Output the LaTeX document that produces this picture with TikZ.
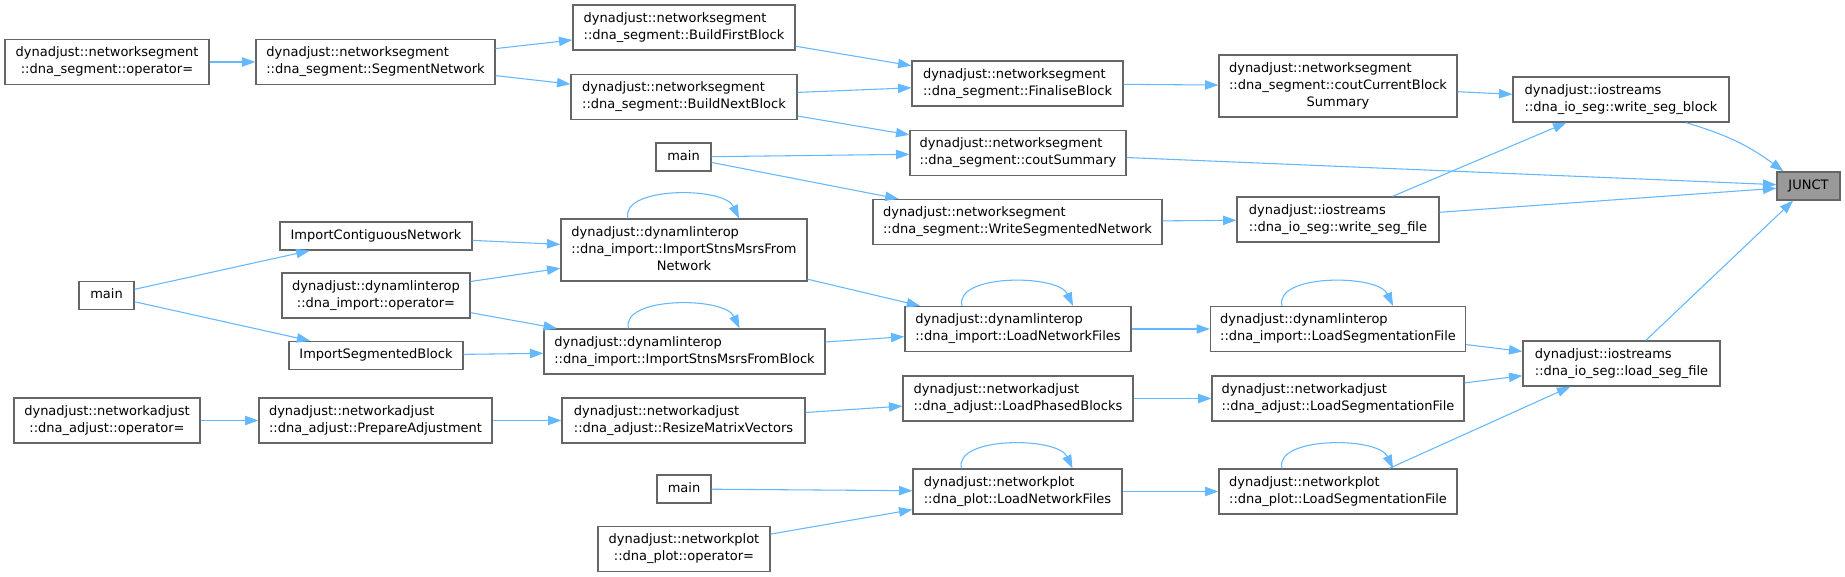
\documentclass[tikz,border=0pt]{standalone}
\usepackage{fontspec}
\setmainfont{DejaVu Sans}
\usetikzlibrary{arrows.meta}
\newdimen\pxu \pxu=0.75pt
\definecolor{callblue}{HTML}{63B8FF}
\definecolor{boxgray}{HTML}{666666}
\newcommand\fnA[2]{\begin{tabular}{@{}l@{}}#1\\\multicolumn{1}{@{}c@{}}{#2}\end{tabular}}
\newcommand\fnB[3]{\begin{tabular}{@{}l@{}}#1\\#2\\\multicolumn{1}{@{}c@{}}{#3}\end{tabular}}
\tikzset{
  fn/.style={rectangle, draw=boxgray, line width=1pt, fill=white, inner sep=0pt,
    minimum width=#1\pxu, minimum height=45\pxu, font=\fontsize{9.75}{12.75}\selectfont},
  fnone/.style={fn=#1, minimum height=28\pxu},
  fnthree/.style={fn=#1, minimum height=62\pxu},
  target/.style={fnone=#1, fill=black!40},
  call/.style={-{Triangle[length=10pt, width=7pt]}, line width=0.8pt, draw=callblue},
}

\begin{document}
\begin{tikzpicture}[x=0.75pt, y=-0.75pt]
  \path[fill=white, use as bounding box] (0,0) rectangle (1845,577);
  % networksegment
  \node[fn=204] (segOp) at (107,62) {\fnA{dynadjust::networksegment}{::dna\_segment::operator=}};
  \node[fn=239] (segNet) at (375.5,62) {\fnA{dynadjust::networksegment}{::dna\_segment::SegmentNetwork}};
  \node[fn=222] (buildFirst) at (684,27.5) {\fnA{dynadjust::networksegment}{::dna\_segment::BuildFirstBlock}};
  \node[fn=226] (buildNext) at (684,97) {\fnA{dynadjust::networksegment}{::dna\_segment::BuildNextBlock}};
  \node[fnone=55] (mainA) at (683.5,157) {\strut main};
  \node[fn=211] (finalise) at (1017.5,83.5) {\fnA{dynadjust::networksegment}{::dna\_segment::FinaliseBlock}};
  \node[fn=216] (coutSum) at (1018,153) {\fnA{dynadjust::networksegment}{::dna\_segment::coutSummary}};
  \node[fn=289] (writeSegNet) at (1017.5,222) {\fnA{dynadjust::networksegment}{::dna\_segment::WriteSegmentedNetwork}};
  \node[fnthree=238] (coutCur) at (1338,86) {\fnB{dynadjust::networksegment}{::dna\_segment::coutCurrentBlock}{Summary}};
  % iostreams
  \node[fn=216] (writeBlock) at (1621,99.5) {\fnA{dynadjust::iostreams}{::dna\_io\_seg::write\_seg\_block}};
  \node[fn=202] (writeFile) at (1338,219.5) {\fnA{dynadjust::iostreams}{::dna\_io\_seg::write\_seg\_file}};
  \node[fn=197] (loadSeg) at (1621.5,363.5) {\fnA{dynadjust::iostreams}{::dna\_io\_seg::load\_seg\_file}};
  \node[target=63] (junct) at (1808.5,186) {\strut JUNCT};
  % dynamlinterop
  \node[fnone=55] (mainB) at (106.5,295.5) {\strut main};
  \node[fnone=192] (importCont) at (376,236) {\strut ImportContiguousNetwork};
  \node[fn=188] (importOp) at (376,295.5) {\fnA{dynadjust::dynamlinterop}{::dna\_import::operator=}};
  \node[fnone=174] (importSeg) at (376,355.5) {\strut ImportSegmentedBlock};
  \node[fnthree=246] (stnsNet) at (684,250) {\fnB{dynadjust::dynamlinterop}{::dna\_import::ImportStnsMsrsFrom}{Network}};
  \node[fn=281] (stnsBlock) at (684.5,351.5) {\fnA{dynadjust::dynamlinterop}{::dna\_import::ImportStnsMsrsFromBlock}};
  \node[fn=226] (importLoad) at (1018,329) {\fnA{dynadjust::dynamlinterop}{::dna\_import::LoadNetworkFiles}};
  \node[fn=255] (importSegFile) at (1338,329) {\fnA{dynadjust::dynamlinterop}{::dna\_import::LoadSegmentationFile}};
  % networkadjust
  \node[fn=186] (adjustOp) at (107,420.5) {\fnA{dynadjust::networkadjust}{::dna\_adjust::operator=}};
  \node[fn=233] (prepAdj) at (375.5,420.5) {\fnA{dynadjust::networkadjust}{::dna\_adjust::PrepareAdjustment}};
  \node[fn=243] (resize) at (683.5,420.5) {\fnA{dynadjust::networkadjust}{::dna\_adjust::ResizeMatrixVectors}};
  \node[fn=230] (phased) at (1018,398.5) {\fnA{dynadjust::networkadjust}{::dna\_adjust::LoadPhasedBlocks}};
  \node[fn=252] (adjustSegFile) at (1338,398.5) {\fnA{dynadjust::networkadjust}{::dna\_adjust::LoadSegmentationFile}};
  % networkplot
  \node[fnone=54] (mainC) at (684,489) {\strut main};
  \node[fn=172] (plotOp) at (684,549) {\fnA{dynadjust::networkplot}{::dna\_plot::operator=}};
  \node[fn=209] (plotLoad) at (1017.5,491.5) {\fnA{dynadjust::networkplot}{::dna\_plot::LoadNetworkFiles}};
  \node[fn=238] (plotSegFile) at (1338,491.5) {\fnA{dynadjust::networkplot}{::dna\_plot::LoadSegmentationFile}};

  \draw[call] (segOp) -- (segNet);
  \draw[call] (segNet) -- (buildFirst);
  \draw[call] (segNet) -- (buildNext);
  \draw[call] (buildFirst) -- (finalise);
  \draw[call] (buildNext) -- (finalise);
  \draw[call] (buildNext) -- (coutSum);
  \draw[call] (mainA) -- (coutSum);
  \draw[call] (mainA) -- (writeSegNet);
  \draw[call] (finalise) -- (coutCur);
  \draw[call] (coutCur) -- (writeBlock);
  \draw[call] (coutSum) -- (junct);
  \draw[call] (writeSegNet) -- (writeFile);
  \draw[call] (writeFile) -- (writeBlock);
  \draw[call] (writeFile) -- (junct);
  \draw[call] ([xshift=65\pxu]writeBlock.south) to[bend left=10] ([xshift=-25\pxu]junct.north);
  \draw[call] (loadSeg) -- (junct);

  \draw[call] (mainB) -- (importCont);
  \draw[call] (mainB) -- (importSeg);
  \draw[call] (importCont) -- (stnsNet);
  \draw[call] (importOp) -- (stnsNet);
  \draw[call] (importOp) -- (stnsBlock);
  \draw[call] (importSeg) -- (stnsBlock);
  \draw[call] (stnsNet) -- (importLoad);
  \draw[call] (stnsBlock) -- (importLoad);
  \draw[call] (importLoad) -- (importSegFile);
  \draw[call] (importSegFile) -- (loadSeg);

  \draw[call] (adjustOp) -- (prepAdj);
  \draw[call] (prepAdj) -- (resize);
  \draw[call] (resize) -- (phased);
  \draw[call] (phased) -- (adjustSegFile);
  \draw[call] (adjustSegFile) -- (loadSeg);

  \draw[call] (mainC) -- (plotLoad);
  \draw[call] (plotOp) -- (plotLoad);
  \draw[call] (plotLoad) -- (plotSegFile);
  \draw[call] (plotSegFile) -- (loadSeg);

  % recursive calls
  \foreach \n in {stnsNet,stnsBlock,importLoad,importSegFile,plotLoad,plotSegFile}
    \draw[call] ([xshift=-56\pxu]\n.north) .. controls ([xshift=-64\pxu,yshift=32\pxu]\n.north)
      and ([xshift=40\pxu,yshift=32\pxu]\n.north) .. ([xshift=55\pxu]\n.north);
\end{tikzpicture}
\end{document}
